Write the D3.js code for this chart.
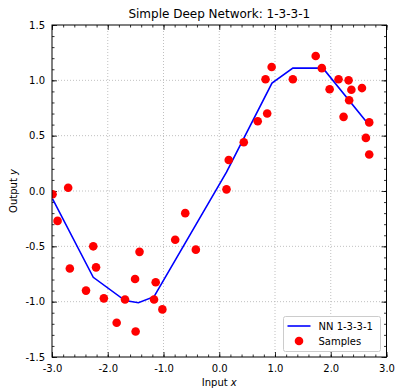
<!DOCTYPE html>
<html>
<head>
<meta charset="utf-8">
<script src="https://cdn.jsdelivr.net/npm/d3@7"></script>
<style>
  body { margin: 0; background: #fff; }
  svg text { font-family: "DejaVu Sans", sans-serif; fill: #000; }
</style>
</head>
<body>
<div id="chart"></div>
<script>
// samples
var sampleX = [-2.99, -2.90, -2.71, -2.68, -2.39, -2.26, -2.21, -2.07, -1.84, -1.69,
               -1.51, -1.50, -1.43, -1.17, -1.14, -1.02, -0.79, -0.61, -0.42, 0.13,
               0.17, 0.44, 0.69, 0.83, 0.86, 0.94, 1.32, 1.73, 1.84, 1.98,
               2.14, 2.23, 2.32, 2.33, 2.37, 2.56, 2.63, 2.69, 2.69];
var sampleY = [-0.03, -0.27, 0.03, -0.70, -0.90, -0.50, -0.69, -0.97, -1.19, -0.98,
               -0.795, -1.27, -0.55, -0.98, -0.825, -1.07, -0.44, -0.20, -0.53, 0.015,
               0.28, 0.44, 0.63, 1.01, 0.70, 1.12, 1.01, 1.22, 1.11, 0.92,
               1.01, 0.67, 1.00, 0.82, 0.915, 0.93, 0.48, 0.33, 0.62];

// network prediction (piecewise linear)
var nnX = [-2.99, -2.26, -1.69, -1.45, -1.17, 0.13, 0.946, 1.32, 1.86, 2.69];
var nnY = [-0.07, -0.78, -0.99, -1.01, -0.955, 0.17, 0.975, 1.11, 1.11, 0.595];

var xMajor = [-3, -2, -1, 0, 1, 2, 3];
var yMajor = [-1.5, -1.0, -0.5, 0.0, 0.5, 1.0, 1.5];

var width = 395, height = 388;
var pLeft = 52, pRight = 386.5, pTop = 25, pBottom = 357;

var x = d3.scaleLinear().domain([-3, 3]).range([pLeft, pRight]);
var y = d3.scaleLinear().domain([-1.5, 1.5]).range([pBottom, pTop]);

var svg = d3.select("#chart").append("svg")
    .attr("width", width)
    .attr("height", height);

svg.append("defs").append("clipPath")
    .attr("id", "plotclip")
    .append("rect")
    .attr("x", pLeft).attr("y", pTop)
    .attr("width", pRight - pLeft).attr("height", pBottom - pTop);

// grid
var grid = svg.append("g")
    .attr("stroke", "#b0b0b0")
    .attr("stroke-width", 0.8)
    .attr("stroke-dasharray", "1,2");
grid.selectAll(".gx").data(xMajor.slice(1, -1)).enter().append("line")
    .attr("x1", function(d) { return x(d); }).attr("x2", function(d) { return x(d); })
    .attr("y1", pTop).attr("y2", pBottom);
grid.selectAll(".gy").data(yMajor.slice(1, -1)).enter().append("line")
    .attr("y1", function(d) { return y(d); }).attr("y2", function(d) { return y(d); })
    .attr("x1", pLeft).attr("x2", pRight);

// ticks inward on all sides
var fmt = d3.format(".1f");
var xMinor = d3.range(-3, 3.001, 0.2);
var yMinor = d3.range(-1.5, 1.501, 0.1);

function tickAxis(axisFn, scale, vals, size, pos, labels) {
    var a = axisFn(scale).tickValues(vals).tickSizeInner(-size).tickSizeOuter(0).tickPadding(4);
    if (labels) a.tickFormat(function(d) { return fmt(d).replace("\u2212", "-"); });
    else a.tickFormat("");
    var g = svg.append("g").attr("transform", pos).call(a);
    g.select(".domain").remove();
    g.selectAll("line").attr("stroke", "#000").attr("stroke-width", 0.8);
    g.selectAll("text").style("font-family", "DejaVu Sans, sans-serif").style("font-size", "10px").attr("fill", "#000");
    return g;
}
tickAxis(d3.axisBottom, x, xMinor, 2.5, "translate(0," + pBottom + ")", false);
tickAxis(d3.axisTop, x, xMinor, 2.5, "translate(0," + pTop + ")", false);
tickAxis(d3.axisLeft, y, yMinor, 2.5, "translate(" + pLeft + ",0)", false);
tickAxis(d3.axisRight, y, yMinor, 2.5, "translate(" + pRight + ",0)", false);
tickAxis(d3.axisBottom, x, xMajor, 5, "translate(0," + pBottom + ")", true)
    .selectAll("text").attr("y", 7.5);
tickAxis(d3.axisTop, x, xMajor, 5, "translate(0," + pTop + ")", false);
tickAxis(d3.axisLeft, y, yMajor, 5, "translate(" + pLeft + ",0)", true)
    .selectAll("text").attr("x", -7);
tickAxis(d3.axisRight, y, yMajor, 5, "translate(" + pRight + ",0)", false);

// NN line
var line = d3.line()
    .x(function(d) { return x(d[0]); })
    .y(function(d) { return y(d[1]); });
svg.append("path")
    .datum(d3.zip(nnX, nnY))
    .attr("clip-path", "url(#plotclip)")
    .attr("fill", "none")
    .attr("stroke", "#0000ff")
    .attr("stroke-width", 1.6)
    .attr("d", line);

// samples
svg.append("g")
    .attr("clip-path", "url(#plotclip)")
    .selectAll("circle")
    .data(d3.zip(sampleX, sampleY))
    .enter().append("circle")
    .attr("cx", function(d) { return x(d[0]); })
    .attr("cy", function(d) { return y(d[1]); })
    .attr("r", 4.3)
    .attr("fill", "#ff0000");

// frame
svg.append("rect")
    .attr("x", pLeft).attr("y", pTop)
    .attr("width", pRight - pLeft).attr("height", pBottom - pTop)
    .attr("fill", "none").attr("stroke", "#000").attr("stroke-width", 1);

// title and labels
svg.append("text")
    .attr("x", (pLeft + pRight) / 2).attr("y", 18)
    .attr("text-anchor", "middle")
    .style("font-size", "12px")
    .text("Simple Deep Network: 1-3-3-1");

var xl = svg.append("text")
    .attr("x", (pLeft + pRight) / 2).attr("y", 386)
    .attr("text-anchor", "middle")
    .style("font-size", "10px");
xl.append("tspan").text("Input ");
xl.append("tspan").style("font-style", "italic").text("x");

var yl = svg.append("text")
    .attr("transform", "translate(17," + (pTop + pBottom) / 2 + ") rotate(-90)")
    .attr("text-anchor", "middle")
    .style("font-size", "10px");
yl.append("tspan").text("Output ");
yl.append("tspan").style("font-style", "italic").text("y");

// legend
var lg = svg.append("g").attr("transform", "translate(283.5,316.5)");
lg.append("rect")
    .attr("width", 97).attr("height", 35).attr("rx", 2)
    .attr("fill", "#fff").attr("fill-opacity", 0.8)
    .attr("stroke", "#cccccc").attr("stroke-width", 1);
lg.append("line")
    .attr("x1", 4).attr("x2", 27).attr("y1", 9.5).attr("y2", 9.5)
    .attr("stroke", "#0000ff").attr("stroke-width", 1.6);
lg.append("text").attr("x", 35).attr("y", 13).style("font-size", "10px").text("NN 1-3-3-1");
lg.append("circle").attr("cx", 15.5).attr("cy", 24.5).attr("r", 4.3).attr("fill", "#ff0000");
lg.append("text").attr("x", 35).attr("y", 28).style("font-size", "10px").text("Samples");
</script>
</body>
</html>
